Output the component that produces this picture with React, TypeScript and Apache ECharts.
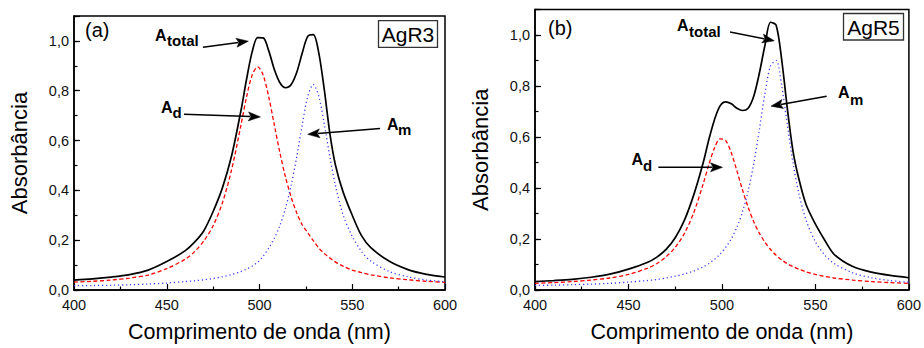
import React, { useEffect, useRef } from 'react';
import * as echarts from 'echarts';

// Wavelength samples (nm), shared by all curves
const wavelengths = [400, 410, 420, 430, 440, 450, 460, 465, 470, 475, 480, 485, 490, 493, 496, 499, 502, 505, 508, 511, 514, 517, 520, 523, 526, 529, 532, 535, 538, 541, 545, 550, 555, 560, 570, 580, 590, 600];

// Panel (a) AgR3
const totalA = [0.040, 0.045, 0.052, 0.062, 0.080, 0.114, 0.158, 0.192, 0.238, 0.315, 0.410, 0.540, 0.720, 0.845, 0.955, 1.013, 1.012, 0.960, 0.885, 0.832, 0.812, 0.824, 0.872, 0.950, 1.018, 1.025, 0.950, 0.800, 0.625, 0.500, 0.395, 0.300, 0.218, 0.170, 0.115, 0.082, 0.063, 0.052];
const dipolarA = [0.032, 0.035, 0.040, 0.048, 0.060, 0.086, 0.124, 0.154, 0.197, 0.258, 0.350, 0.484, 0.662, 0.774, 0.862, 0.896, 0.862, 0.774, 0.662, 0.551, 0.454, 0.374, 0.311, 0.262, 0.230, 0.198, 0.168, 0.146, 0.128, 0.112, 0.096, 0.080, 0.070, 0.061, 0.049, 0.041, 0.035, 0.031];
const multipolarA = [0.017, 0.018, 0.019, 0.021, 0.024, 0.028, 0.034, 0.037, 0.041, 0.046, 0.053, 0.062, 0.074, 0.084, 0.096, 0.112, 0.136, 0.168, 0.208, 0.259, 0.328, 0.418, 0.532, 0.662, 0.777, 0.825, 0.777, 0.662, 0.532, 0.418, 0.303, 0.215, 0.155, 0.116, 0.074, 0.053, 0.040, 0.033];

// Panel (b) AgR5
const totalB = [0.033, 0.037, 0.042, 0.050, 0.062, 0.082, 0.108, 0.128, 0.158, 0.205, 0.275, 0.375, 0.500, 0.590, 0.668, 0.722, 0.738, 0.730, 0.713, 0.704, 0.713, 0.760, 0.850, 0.960, 1.050, 1.038, 0.900, 0.710, 0.545, 0.440, 0.335, 0.258, 0.195, 0.140, 0.092, 0.070, 0.057, 0.048];
const dipolarB = [0.026, 0.029, 0.033, 0.039, 0.047, 0.061, 0.085, 0.103, 0.130, 0.167, 0.223, 0.305, 0.417, 0.492, 0.557, 0.593, 0.586, 0.538, 0.467, 0.392, 0.325, 0.268, 0.223, 0.187, 0.159, 0.136, 0.118, 0.103, 0.092, 0.082, 0.071, 0.061, 0.053, 0.047, 0.039, 0.033, 0.029, 0.026];
const multipolarB = [0.018, 0.019, 0.021, 0.023, 0.026, 0.031, 0.037, 0.041, 0.047, 0.054, 0.063, 0.075, 0.091, 0.104, 0.120, 0.141, 0.167, 0.201, 0.246, 0.307, 0.388, 0.495, 0.628, 0.771, 0.879, 0.900, 0.799, 0.646, 0.499, 0.383, 0.274, 0.189, 0.137, 0.104, 0.067, 0.048, 0.037, 0.030];

// Arrow endpoints in data coordinates [nm, absorbance]: [from, to]
const arrowsA = [
  [[469.5, 0.975], [494.0, 0.999]],
  [[459.3, 0.706], [500.5, 0.695]],
  [[565.0, 0.648], [526.0, 0.625]],
];
const arrowsB = [
  [[504.3, 1.012], [528.0, 0.977]],
  [[556.0, 0.760], [526.2, 0.721]],
  [[466.0, 0.481], [500.3, 0.481]],
];

const FONT = '"Liberation Sans", Arial, sans-serif';

const fmtY = (v: number) => {
  const k = v * 5;
  if (Math.abs(k - Math.round(k)) > 1e-6 || v > 1.05) return '';
  return v.toFixed(1).replace('.', ',');
};

function makeAxes(gridIndex: number) {
  const xAxis = {
    type: 'value', gridIndex, min: 400, max: 600, interval: 50,
    axisLine: { show: true, lineStyle: { color: '#000', width: 1.5 } },
    axisTick: { show: true, inside: true, length: 6, lineStyle: { color: '#000', width: 1.2 } },
    minorTick: { show: true, splitNumber: 2, length: 3.5, lineStyle: { color: '#000', width: 1.2 } },
    axisLabel: { fontSize: 14.5, color: '#111', fontFamily: FONT, margin: 7 },
    splitLine: { show: false },
    name: 'Comprimento de onda (nm)', nameLocation: 'middle', nameGap: 31,
    nameTextStyle: { fontSize: 21.5, color: '#000', fontFamily: FONT },
  };
  const yMain = {
    type: 'value', gridIndex, min: 0, max: 1.1, interval: 0.2,
    axisLine: { show: true, lineStyle: { color: '#000', width: 1.5 } },
    axisTick: { show: true, inside: true, length: 6, lineStyle: { color: '#000', width: 1.2 } },
    axisLabel: { fontSize: 14.5, color: '#111', fontFamily: FONT, margin: 5, formatter: fmtY },
    splitLine: { show: false },
    name: 'Absorbância', nameLocation: 'middle', nameGap: 44,
    nameTextStyle: { fontSize: 22, color: '#000', fontFamily: FONT },
  };
  const yMinor = {
    type: 'value', gridIndex, min: 0, max: 1.1, interval: 0.1, position: 'left',
    axisLine: { show: false },
    axisTick: { show: true, inside: true, length: 3.5, lineStyle: { color: '#000', width: 1.2 } },
    axisLabel: { show: false },
    splitLine: { show: false },
  };
  return { xAxis, yMain, yMinor };
}

function curve(name: string, xi: number, yi: number, ys: number[], color: string, type: any, width: number) {
  return {
    name, type: 'line', xAxisIndex: xi, yAxisIndex: yi,
    data: wavelengths.map((w, i) => [w, ys[i]]),
    smooth: 0.3, symbol: 'none', silent: true,
    lineStyle: { color, width, type },
    z: type === 'solid' ? 3 : 2,
  };
}

function label(main: string, sub: string, x: number, yMain: number, xSub: number, ySub: number) {
  return [
    { type: 'text', x, y: yMain, z: 20, style: { text: main, font: `bold 16px ${FONT}`, fill: '#000', verticalAlign: 'middle' } },
    { type: 'text', x: xSub, y: ySub, z: 20, style: { text: sub, font: `bold 15px ${FONT}`, fill: '#000', verticalAlign: 'middle' } },
  ];
}

export default function App() {
  const ref = useRef<HTMLDivElement>(null);
  useEffect(() => {
    if (!ref.current) return;
    const chart = echarts.init(ref.current, undefined, { renderer: 'svg' });
    const a = makeAxes(0);
    const b = makeAxes(1);
    const staticGraphics: any[] = [
      { type: 'text', x: 85, y: 30, style: { text: '(a)', font: `20px ${FONT}`, fill: '#000', verticalAlign: 'middle' } },
      { type: 'text', x: 548, y: 28, style: { text: '(b)', font: `20px ${FONT}`, fill: '#000', verticalAlign: 'middle' } },
      { type: 'rect', shape: { x: 378.5, y: 20.7, width: 59, height: 26.6 }, style: { fill: '#fff', stroke: '#333', lineWidth: 1.3 }, z: 10 },
      { type: 'text', x: 408, y: 34.5, z: 11, style: { text: 'AgR3', font: `21px ${FONT}`, fill: '#000', align: 'center', verticalAlign: 'middle' } },
      { type: 'rect', shape: { x: 843.5, y: 13.5, width: 60, height: 26.5 }, style: { fill: '#fff', stroke: '#333', lineWidth: 1.3 }, z: 10 },
      { type: 'text', x: 873.5, y: 27.5, z: 11, style: { text: 'AgR5', font: `21px ${FONT}`, fill: '#000', align: 'center', verticalAlign: 'middle' } },
      ...label('A', 'total', 155, 35.5, 167, 40.5),
      ...label('A', 'd', 161, 107.5, 172.5, 112.5),
      ...label('A', 'm', 387, 124.5, 398, 129.5),
      ...label('A', 'total', 677, 25, 689, 31.5),
      ...label('A', 'm', 838, 92, 850, 99),
      ...label('A', 'd', 631.5, 159.5, 643, 165),
    ];
    const option: any = {
      animation: false,
      backgroundColor: '#fff',
      grid: [
        { left: 74, top: 16, width: 371, height: 282.3, show: true, borderColor: '#000', borderWidth: 1.5, backgroundColor: 'transparent' },
        { left: 535, top: 9.5, width: 376, height: 283.8, show: true, borderColor: '#000', borderWidth: 1.5, backgroundColor: 'transparent' },
      ],
      xAxis: [a.xAxis, b.xAxis],
      yAxis: [a.yMain, a.yMinor, b.yMain, b.yMinor],
      series: [
        curve('Ad (a)', 0, 0, dipolarA, '#ff0000', [4, 2.5], 1.3),
        curve('Am (a)', 0, 0, multipolarA, '#3a3aff', [1.2, 2.8], 1.3),
        curve('Atotal (a)', 0, 0, totalA, '#000', 'solid', 1.7),
        curve('Ad (b)', 1, 2, dipolarB, '#ff0000', [4, 2.5], 1.3),
        curve('Am (b)', 1, 2, multipolarB, '#3a3aff', [1.2, 2.8], 1.3),
        curve('Atotal (b)', 1, 2, totalB, '#000', 'solid', 1.7),
      ],
      graphic: staticGraphics,
    };
    chart.setOption(option);

    // Arrows: convert data coordinates to pixels through the chart's own axes
    const arrowEls: any[] = [];
    const addArrows = (list: number[][][], gridIndex: number) => {
      list.forEach(([from, to]) => {
        const p0 = chart.convertToPixel({ gridIndex }, from) as number[];
        const p1 = chart.convertToPixel({ gridIndex }, to) as number[];
        const dx = p1[0] - p0[0];
        const dy = p1[1] - p0[1];
        const len = Math.sqrt(dx * dx + dy * dy);
        const ux = dx / len, uy = dy / len;
        const headL = 12, headW = 4.5;
        const bx = p1[0] - ux * headL, by = p1[1] - uy * headL;
        arrowEls.push({ type: 'line', z: 15, shape: { x1: p0[0], y1: p0[1], x2: bx + ux * 2, y2: by + uy * 2 }, style: { stroke: '#000', lineWidth: 1.5 } });
        arrowEls.push({
          type: 'polygon', z: 15,
          shape: { points: [[p1[0], p1[1]], [bx - uy * headW, by + ux * headW], [bx + ux * 2.5, by + uy * 2.5], [bx + uy * headW, by - ux * headW]] },
          style: { fill: '#000', stroke: '#000', lineWidth: 0.5 },
        });
      });
    };
    addArrows(arrowsA, 0);
    addArrows(arrowsB, 1);
    chart.setOption({ graphic: [...staticGraphics, ...arrowEls] }, { replaceMerge: ['graphic'] });

    return () => chart.dispose();
  }, []);
  return <div ref={ref} style={{ position: 'fixed', left: 0, top: 0, width: 924, height: 348, background: '#fff' }} />;
}
